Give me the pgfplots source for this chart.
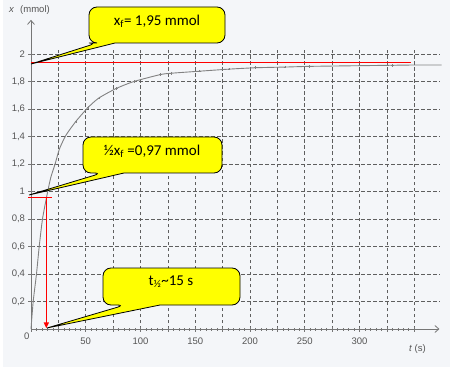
\documentclass[border=0pt]{standalone}
\usepackage{fontspec}
\setmainfont{Liberation Sans}
\newfontfamily\calibri{Carlito}
\usepackage{pgfplots}
\pgfplotsset{compat=1.18}
\usetikzlibrary{arrows.meta}
\definecolor{bgc}{RGB}{244,246,249}
\definecolor{axc}{RGB}{118,118,118}
\definecolor{gridc}{RGB}{95,95,95}
\definecolor{curvec}{RGB}{130,130,130}
\definecolor{tlc}{RGB}{85,85,85}
\definecolor{callout}{RGB}{255,255,0}
\begin{document}
\begin{tikzpicture}[x=1pt,y=1pt]
\useasboundingbox (0,0) rectangle (455,378);
\fill[bgc] (3,11) rectangle (450,378);
\begin{axis}[
  at={(31pt,49pt)}, anchor=south west,
  x=1.095pt, y=137.5pt,
  xmin=0, xmax=373, ymin=0, ymax=2.03,
  axis lines=left,
  clip=false,
  axis line style={draw=axc, line width=0.8pt},
  every outer x axis line/.append style={-{Straight Barb[length=4pt,width=7pt]}},
  every outer y axis line/.append style={shorten >=-30pt,-{Straight Barb[length=4pt,width=7pt]}},
  xtick={0,25,...,350},
  xticklabels={{},{},50,{},100,{},150,{},200,{},250,{},300,{},{}},
  ytick={0.2,0.4,0.6,0.8,1,1.2,1.4,1.6,1.8,2},
  yticklabels={{0,2},{0,4},{0,6},{0,8},1,{1,2},{1,4},{1,6},{1,8},2},
  minor x tick num=4,
  tick align=center,
  major tick length=5pt,
  minor tick length=3pt,
  tick style={draw=axc, line width=0.6pt},
  grid=major,
  major grid style={draw=gridc, line width=0.7pt, dash pattern=on 3.5pt off 2.5pt},
  /pgf/number format/assume math mode=true,
  tick label style={font=\fontsize{9.5}{11}\selectfont, text=tlc},
  xticklabel style={yshift=-3pt},
]
% measured curve x(t)
\addplot[curvec, line width=0.9pt, smooth, tension=0.4] coordinates {
 (0,0) (2,0.2) (5,0.4) (7.5,0.6) (10.5,0.8) (14.5,0.97) (18,1.1) (22,1.2)
 (26,1.31) (32,1.41) (41,1.51) (52,1.61) (62,1.68) (78,1.75) (94,1.80)
 (118,1.85) (128,1.86) (154,1.875) (181,1.89) (205,1.90) (232,1.905)
 (254,1.91) (300,1.915) (350,1.92) (375,1.92)};
% data point marks
\addplot[curvec, only marks, mark=+, mark size=1.3pt, line width=0.5pt] coordinates {
 (10.5,0.8) (22,1.2) (41,1.51) (52,1.61) (62,1.68) (78,1.75) (94,1.80)
 (118,1.85) (128,1.86) (154,1.875) (181,1.89) (205,1.90) (232,1.905) (254,1.91) (330,1.918)};
% red annotations
\addplot[red, line width=1pt] coordinates {(0,1.935) (347,1.935)};
\addplot[red, line width=1pt] coordinates {(-2.5,0.955) (19,0.955)};
\addplot[red, line width=1.6pt, -{Triangle[length=6pt,width=5pt]}] coordinates {(14,0.955) (14,0.005)};
\node[anchor=north east, font=\fontsize{9.5}{11}\selectfont, text=tlc, inner sep=0pt] at (axis cs:0,0) [xshift=-1.5pt, yshift=-4pt] {0};
\end{axis}
% axis titles
\node[anchor=base west, font=\fontsize{9.5}{11}\selectfont, text=tlc, inner sep=0pt] at (9,365) {\textit{x}\hspace{6pt}(mmol)};
\node[anchor=base west, font=\fontsize{9.5}{11}\selectfont, text=tlc, inner sep=0pt] at (409,27) {\textit{t}\hspace{2.5pt}(s)};
% callouts
\draw[fill=callout, draw=black, line width=0.8pt] (97,335) [sharp corners] -- (31,314) -- (115,335) [rounded corners=8pt] -- (225,335) -- (225,371) -- (89,371) -- (89,335) -- cycle;
\node[font=\calibri\fontsize{15}{17}\selectfont] at (157,357) {x\textsubscript{f}= 1,95 mmol};
\draw[fill=callout, draw=black, line width=0.8pt] (102,205) [sharp corners] -- (29,183) -- (124,205) [rounded corners=8pt] -- (222,205) -- (222,241) -- (83,241) -- (83,205) -- cycle;
\node[font=\calibri\fontsize{15}{17}\selectfont] at (152,227) {½x\textsubscript{f} =0,97 mmol};
\draw[fill=callout, draw=black, line width=0.8pt] (125,73) [sharp corners] -- (47,50) -- (160,73) [rounded corners=8pt] -- (240,73) -- (240,110) -- (103,110) -- (103,73) -- cycle;
\node[font=\calibri\fontsize{15}{17}\selectfont] at (171,96) {t\textsubscript{½}\textasciitilde15 s};
\end{tikzpicture}
\end{document}
